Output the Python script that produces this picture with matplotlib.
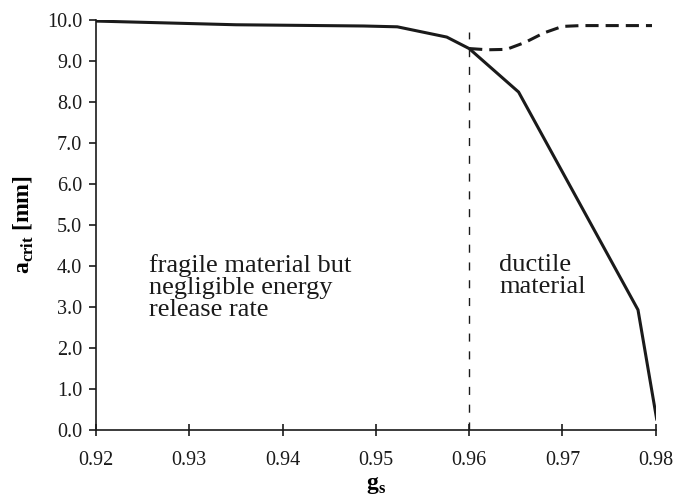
import matplotlib
matplotlib.use("Agg")
import matplotlib.pyplot as plt

plt.rcParams["font.family"] = ["Liberation Serif", "DejaVu Serif"]
plt.rcParams["mathtext.fontset"] = "custom"
plt.rcParams["mathtext.rm"] = "Liberation Serif"
plt.rcParams["mathtext.bf"] = "Liberation Serif:bold"

# Curva principal (a_crit em função de g_s)
gs_solido = [0.920, 0.935, 0.9487, 0.9523, 0.9576, 0.960, 0.9653, 0.9781, 0.9801]
a_solido = [9.97, 9.88, 9.85, 9.83, 9.58, 9.30, 8.24, 2.93, 0.27]

# Curva tracejada (ramo superior)
gs_tracejado = [0.960, 0.962, 0.964, 0.966, 0.968, 0.970, 0.972, 0.9796]
a_tracejado = [9.30, 9.27, 9.28, 9.45, 9.68, 9.84, 9.86, 9.86]

# Linha de transição
gs_transicao = 0.96
a_transicao = [0.0, 9.7]

fig = plt.figure(figsize=(6.76, 4.96), dpi=100)
ax = fig.add_axes([0.142, 0.133, 0.828, 0.827])

ax.plot(gs_solido, a_solido, color="#1a1a1a", lw=2.2, solid_joinstyle="miter")
ax.plot(gs_tracejado, a_tracejado, color="#1a1a1a", lw=2.2, ls=(0, (4.3, 2.3)))
ax.plot([gs_transicao, gs_transicao], a_transicao, color="#1a1a1a", lw=1.0,
        ls=(0, (5.8, 7)))

ax.set_xlim(0.92, 0.98)
ax.set_ylim(0.0, 10.0)
ax.set_xticks([0.92, 0.93, 0.94, 0.95, 0.96, 0.97, 0.98])
ax.set_yticks([i * 1.0 for i in range(11)])
ax.set_xticklabels(["0.92", "0.93", "0.94", "0.95", "0.96", "0.97", "0.98"])
ax.set_yticklabels([f"{i:.1f}" for i in range(11)])

for lado in ["top", "right"]:
    ax.spines[lado].set_visible(False)
for lado in ["left", "bottom"]:
    ax.spines[lado].set_linewidth(1.2)
    ax.spines[lado].set_color("#1a1a1a")

ax.tick_params(axis="x", direction="inout", length=8, width=1.2,
               labelsize=14.5, pad=11, colors="#1a1a1a")
ax.tick_params(axis="y", direction="out", length=5, width=1.2,
               labelsize=14.5, pad=5, colors="#1a1a1a")

ax.set_xlabel(r"$\mathbf{g}_{\mathbf{s}}$", fontsize=17, labelpad=4)
ax.set_ylabel(r"$\mathbf{a}_{\mathbf{crit}}$ [mm]", fontsize=17,
              fontweight="bold", labelpad=8)

ax.text(0.92567, 4.3, "fragile material but\nnegligible energy\nrelease rate",
        fontsize=19, va="top", ha="left", color="#1a1a1a", linespacing=1.0)
ax.text(0.96321, 4.3, "ductile\nmaterial",
        fontsize=19, va="top", ha="left", color="#1a1a1a", linespacing=1.0)

fig.savefig("out.png", dpi=100)
plt.close(fig)
